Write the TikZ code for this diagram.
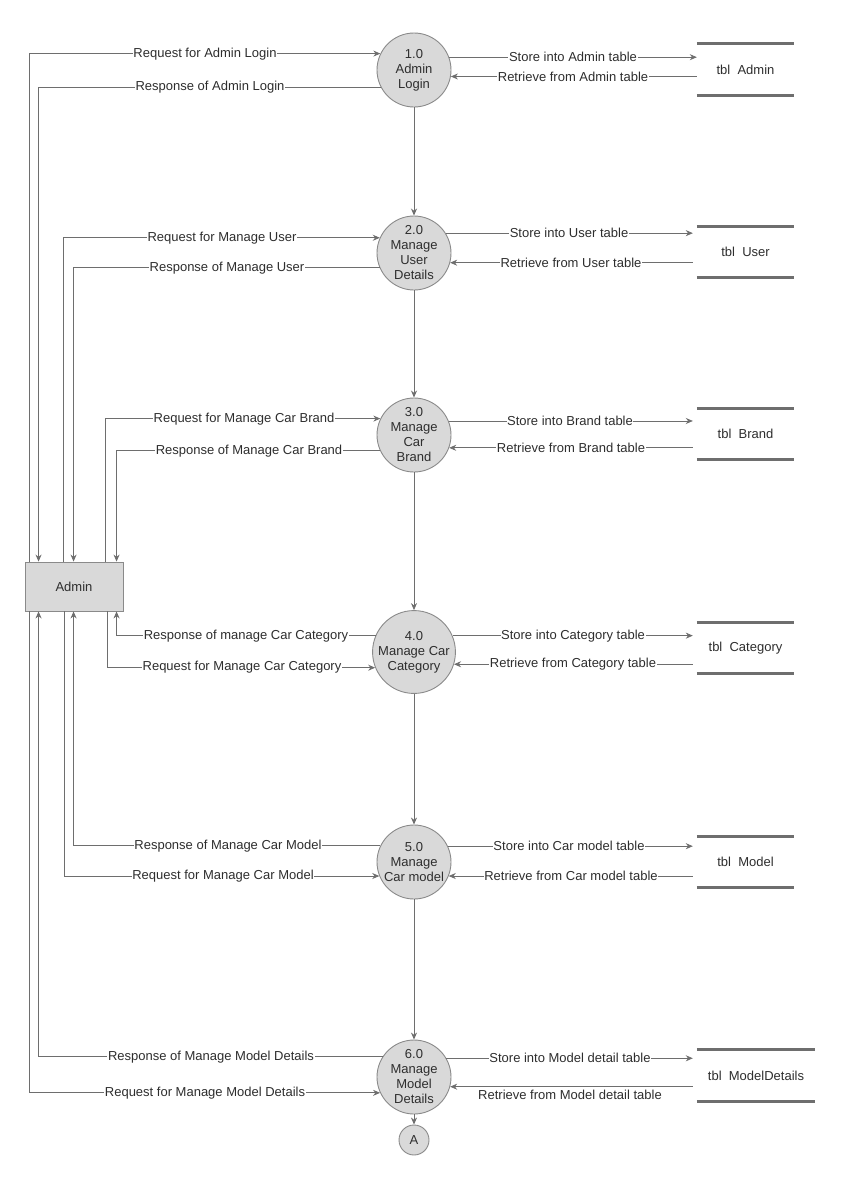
\documentclass[tikz,border=0pt]{standalone}
\usepackage{fontspec}
\setmainfont{Liberation Sans}
\usetikzlibrary{arrows.meta}
\definecolor{ln}{HTML}{6E6E6E}
\definecolor{bd}{HTML}{8A8A8A}
\definecolor{fillg}{HTML}{D9D9D9}
\definecolor{txt}{HTML}{2E2E2E}
\begin{document}
\begin{tikzpicture}[x=1pt,y=-1pt,
  font=\fontsize{13}{15}\selectfont, text=txt,
  proc/.style={circle, draw=bd, fill=fillg, minimum size=74pt, inner sep=0pt, align=center, line width=0.9pt},
  ent/.style={rectangle, draw=bd, fill=fillg, minimum width=98pt, minimum height=49pt, line width=0.9pt},
  store/.style={minimum width=97pt, minimum height=51pt, inner sep=0pt},
  storeline/.style={draw=ln, line width=3pt},
  flow/.style={draw=ln, line width=0.8pt, -{Stealth[length=7pt,width=6pt]}},
  lbl/.style={fill=white, inner sep=0.6pt}]
\useasboundingbox (0,0) rectangle (841,1189);
\fill[white] (0,0) rectangle (841,1189);

% processes
\node[proc] (p1) at (414,70) {1.0\\Admin\\Login};
\node[proc] (p2) at (414,253) {2.0\\Manage\\User\\Details};
\node[proc] (p3) at (414,435) {3.0\\Manage\\Car\\Brand};
\node[proc, minimum size=80pt] (p4) at (414,652) {4.0\\Manage Car\\Category};
\node[proc] (p5) at (414,862) {5.0\\Manage\\Car model};
\node[proc] (p6) at (414,1077) {6.0\\Manage\\Model\\Details};
\node[proc, minimum size=30pt] (pa) at (414,1140) {A};

% external entity
\node[ent] (admin) at (74,586.5) {Admin};

% data stores
\node[store] (s1) at (745.5,69.5) {tbl~ Admin};
\node[store] (s2) at (745.5,252) {tbl~ User};
\node[store] (s3) at (745.5,434) {tbl~ Brand};
\node[store] (s4) at (745.5,648) {tbl~ Category};
\node[store] (s5) at (745.5,862) {tbl~ Model};
\node[store, minimum width=118pt] (s6) at (756,1075.5) {tbl~ ModelDetails};
\foreach \s in {s1,s2,s3,s4,s5,s6}{
  \draw[storeline] (\s.north west) -- (\s.north east);
  \draw[storeline] (\s.south west) -- (\s.south east);
}

% process chain
\draw[flow] (p1) -- (p2);
\draw[flow] (p2) -- (p3);
\draw[flow] (p3) -- (p4);
\draw[flow] (p4) -- (p5);
\draw[flow] (p5) -- (p6);
\draw[flow] (p6) -- (pa);

% admin <-> processes
\draw[flow] ([xshift=5pt]admin.north west) |- (p1.154.4);
\node[lbl] (l1) at (205,54) {Request for Admin Login};
\draw[flow] (p1.207.4) -| ([xshift=14pt]admin.north west);
\node[lbl] (l2) at (210,87) {Response of Admin Login};
\draw[flow] ([xshift=39pt]admin.north west) |- (p2.156.1);
\node[lbl] (l3) at (222,238) {Request for Manage User};
\draw[flow] (p2.203.9) -| ([xshift=49pt]admin.north west);
\node[lbl] (l4) at (227,268) {Response of Manage User};
\draw[flow] ([xshift=81pt]admin.north west) |- (p3.154.4);
\node[lbl] (l5) at (244,419) {Request for Manage Car Brand};
\draw[flow] (p3.205.6) -| ([xshift=92pt]admin.north west);
\node[lbl] (l6) at (249,451) {Response of Manage Car Brand};
\draw[flow] (p4.156.4) -| ([xshift=92pt]admin.south west);
\node[lbl] (l7) at (246,636) {Response of manage Car Category};
\draw[flow] ([xshift=83pt]admin.south west) |- (p4.202);
\node[lbl] (l8) at (242,667) {Request for Manage Car Category};
\draw[flow] (p5.154.4) -| ([xshift=49pt]admin.south west);
\node[lbl] (l9) at (228,846) {Response of Manage Car Model};
\draw[flow] ([xshift=40pt]admin.south west) |- (p5.202.2);
\node[lbl] (l10) at (223,876) {Request for Manage Car Model};
\draw[flow] (p6.147.3) -| ([xshift=14pt]admin.south west);
\node[lbl] (l11) at (211,1057) {Response of Manage Model Details};
\draw[flow] ([xshift=5pt]admin.south west) |- (p6.205.6);
\node[lbl] (l12) at (205,1093) {Request for Manage Model Details};

% processes <-> stores
\draw[flow] (p1.20.6) -- (p1.20.6 -| s1.west);
\node[lbl] (r1) at (573,57) {Store into Admin table};
\draw[flow] (p1.-10.9 -| s1.west) -- (p1.-10.9);
\node[lbl] (r2) at (573,77) {Retrieve from Admin table};
\draw[flow] (p2.32.7) -- ([xshift=-4pt]p2.32.7 -| s2.west);
\node[lbl] (r3) at (569,233) {Store into User table};
\draw[flow] ([xshift=-4pt]p2.-15.7 -| s2.west) -- (p2.-15.7);
\node[lbl] (r4) at (571,263) {Retrieve from User table};
\draw[flow] (p3.22.2) -- ([xshift=-4pt]p3.22.2 -| s3.west);
\node[lbl] (r5) at (570,421) {Store into Brand table};
\draw[flow] ([xshift=-4pt]p3.-20.6 -| s3.west) -- (p3.-20.6);
\node[lbl] (r6) at (571,448) {Retrieve from Brand table};
\draw[flow] (p4.23.6) -- ([xshift=-4pt]p4.23.6 -| s4.west);
\node[lbl] (r7) at (573,636) {Store into Category table};
\draw[flow] ([xshift=-4pt]p4.-17.5 -| s4.west) -- (p4.-17.5);
\node[lbl] (r8) at (573,664) {Retrieve from Category table};
\draw[flow] (p5.25.6) -- ([xshift=-4pt]p5.25.6 -| s5.west);
\node[lbl] (r9) at (569,846) {Store into Car model table};
\draw[flow] ([xshift=-4pt]p5.-22.2 -| s5.west) -- (p5.-22.2);
\node[lbl] (r10) at (571,876) {Retrieve from Car model table};
\draw[flow] (p6.30.9) -- ([xshift=-4pt]p6.30.9 -| s6.west);
\node[lbl] (r11) at (570,1058) {Store into Model detail table};
\draw[flow] ([xshift=-4pt]p6.-15.7 -| s6.west) -- (p6.-15.7);
\node[lbl] (r12) at (570,1095) {Retrieve from Model detail table};
\end{tikzpicture}
\end{document}
